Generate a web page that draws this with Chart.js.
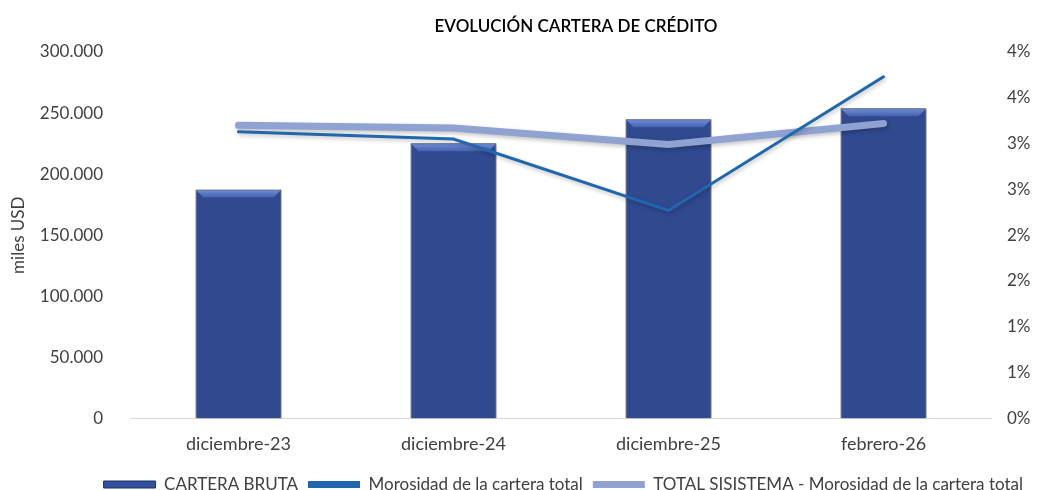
<!DOCTYPE html>
<html>
<head>
<meta charset="utf-8">
<script src="https://cdn.jsdelivr.net/npm/chart.js@4.4.1/dist/chart.umd.min.js"></script>
<style>
  html, body { margin: 0; padding: 0; background: #fff; }
  #wrap { width: 1040px; height: 490px; position: relative; }
</style>
</head>
<body>
<div id="wrap"><canvas id="chart"></canvas></div>
<script>
/* Evolución cartera de crédito: barras (miles USD) + morosidad (%) */
const categories = ['diciembre-23', 'diciembre-24', 'diciembre-25', 'febrero-26'];
const carteraBruta = [187500, 225300, 245000, 254000];
const morosidad = [3.13, 3.05, 2.27, 3.73];
const morosidadSistema = [3.20, 3.17, 2.99, 3.22];
const leftTicks = [0, 50000, 100000, 150000, 200000, 250000, 300000];
const chartTitle = 'EVOLUCIÓN CARTERA DE CRÉDITO';

const FONT = 'Lato, "Open Sans", sans-serif';
const TXT = '#404040';

const fmtMiles = v => String(v).replace(/\B(?=(\d{3})+(?!\d))/g, '.');

// bar fill: darker edges, lighter centre
function barFill(ctx) {
    const el = ctx.element;
    const c = ctx.chart.ctx;
    if (!el || el.x === undefined || !isFinite(el.x) || !el.width) return '#30498f';
    const x0 = el.x - el.width / 2, x1 = el.x + el.width / 2;
    const g = c.createLinearGradient(x0, 0, x1, 0);
    g.addColorStop(0, '#24397a');
    g.addColorStop(0.12, '#31498f');
    g.addColorStop(0.5, '#3752a0');
    g.addColorStop(0.88, '#31498f');
    g.addColorStop(1, '#24397a');
    return g;
}

const shadowPlugin = {
    id: 'shadows',
    beforeDatasetDraw(chart) {
        const c = chart.ctx;
        c.save();
        c.shadowColor = 'rgba(0,0,0,0.25)';
        c.shadowBlur = 4;
        c.shadowOffsetX = 1;
        c.shadowOffsetY = 2;
    },
    afterDatasetDraw(chart) {
        chart.ctx.restore();
    }
};

// bevel highlight on the top of each bar
const bevelPlugin = {
    id: 'bevel',
    afterDatasetDraw(chart, args) {
        if (args.meta.type !== 'bar') return;
        const c = chart.ctx;
        args.meta.data.forEach(bar => {
            const x0 = bar.x - bar.width / 2, x1 = bar.x + bar.width / 2, y = bar.y;
            const d = 8;
            c.save();
            c.shadowColor = 'transparent';
            const g = c.createLinearGradient(0, y, 0, y + d);
            g.addColorStop(0, '#7590d6');
            g.addColorStop(1, '#4462b2');
            c.fillStyle = g;
            c.beginPath();
            c.moveTo(x0 + 1, y + 1);
            c.lineTo(x1 - 1, y + 1);
            c.lineTo(x1 - d, y + d);
            c.lineTo(x0 + d, y + d);
            c.closePath();
            c.fill();
            c.restore();
        });
    }
};

// title centred a bit right of the canvas middle, as in the original
const titlePlugin = {
    id: 'customTitle',
    afterDraw(chart) {
        const c = chart.ctx;
        c.save();
        c.fillStyle = '#000';
        c.font = `600 17px ${FONT}`;
        c.textAlign = 'center';
        c.textBaseline = 'middle';
        c.fillText(chartTitle, 576, 27);
        c.restore();
    }
};

// nudge the legend box (it sits right of centre and low in the original)
const legendShift = { dx: 1, dy: 4 };
const legendNudge = {
    id: 'legendNudge',
    afterLayout(chart) {
        const l = chart.legend;
        if (!l) return;
        l.left += legendShift.dx; l.right += legendShift.dx;
        l.top += legendShift.dy; l.bottom += legendShift.dy;
    }
};

new Chart(document.getElementById('chart'), {
    type: 'bar',
    data: {
        labels: categories,
        datasets: [
            {
                type: 'line',
                label: 'Morosidad de la cartera total',
                data: morosidad,
                yAxisID: 'y1',
                borderColor: '#2167ae',
                backgroundColor: '#2167ae',
                borderWidth: 3,
                pointRadius: 0,
                borderCapStyle: 'round',
                tension: 0,
                order: 1
            },
            {
                type: 'line',
                label: 'TOTAL SISISTEMA - Morosidad de la cartera total',
                data: morosidadSistema,
                yAxisID: 'y1',
                borderColor: '#8fa2d2',
                backgroundColor: '#8fa2d2',
                borderWidth: 7,
                pointRadius: 0,
                borderCapStyle: 'round',
                tension: 0,
                order: 2
            },
            {
                type: 'bar',
                label: 'CARTERA BRUTA',
                data: carteraBruta,
                yAxisID: 'y',
                backgroundColor: barFill,
                borderColor: '#1f3163',
                borderWidth: 1,
                barPercentage: 0.4,
                categoryPercentage: 1,
                order: 3
            }
        ]
    },
    options: {
        responsive: true,
        maintainAspectRatio: false,
        animation: false,
        layout: { padding: { left: 8, right: 8, top: 52, bottom: -9 } },
        plugins: {
            title: { display: false },
            legend: {
                position: 'bottom',
                align: 'end',
                labels: {
                    color: TXT,
                    font: { family: FONT, size: 17 },
                    boxWidth: 52,
                    boxHeight: 7,
                    padding: 10,
                    generateLabels(chart) {
                        return [2, 0, 1].map(i => {
                            const ds = chart.data.datasets[i];
                            return {
                                text: ds.label,
                                fillStyle: i === 2 ? '#3450a0' : ds.borderColor,
                                strokeStyle: i === 2 ? '#1f3163' : ds.borderColor,
                                lineWidth: i === 2 ? 1 : 0,
                                fontColor: TXT,
                                datasetIndex: i,
                                hidden: false
                            };
                        });
                    }
                }
            },
            tooltip: { enabled: false }
        },
        scales: {
            x: {
                grid: { display: false },
                border: { display: true, color: '#d9d9d9', width: 1 },
                ticks: { color: TXT, font: { family: FONT, size: 18 }, padding: 7 }
            },
            y: {
                position: 'left',
                min: 0,
                max: 300000,
                afterBuildTicks(axis) { axis.ticks = leftTicks.map(v => ({ value: v })); },
                grid: { display: false },
                border: { display: false },
                title: {
                    display: true,
                    text: 'miles USD',
                    color: TXT,
                    font: { family: FONT, size: 17 },
                    padding: { top: 0, bottom: 14 }
                },
                ticks: {
                    color: TXT,
                    font: { family: FONT, size: 17 },
                    padding: 20,
                    callback: v => fmtMiles(v)
                },
                afterFit(axis) { axis.width = 123; }
            },
            y1: {
                position: 'right',
                min: 0,
                max: 4,
                grid: { display: false },
                border: { display: false },
                ticks: {
                    stepSize: 0.5,
                    color: TXT,
                    font: { family: FONT, size: 17 },
                    padding: 8,
                    callback: v => Math.round(v) + '%'
                },
                afterFit(axis) { axis.width = 41; }
            }
        }
    },
    plugins: [shadowPlugin, bevelPlugin, titlePlugin, legendNudge]
});
</script>
</body>
</html>
